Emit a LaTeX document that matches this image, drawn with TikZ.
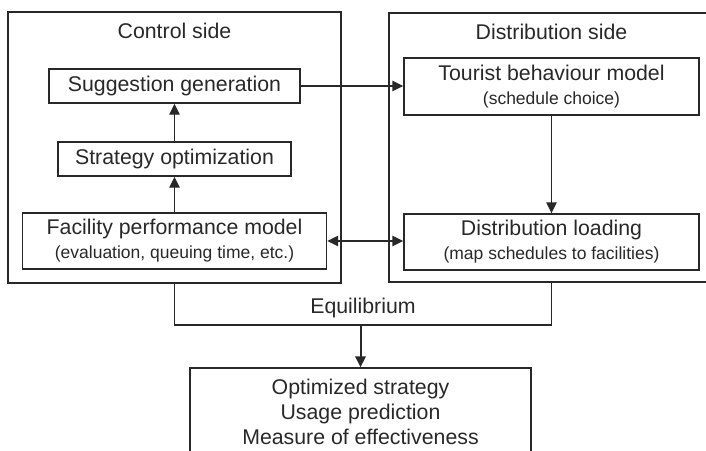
\documentclass[tikz,border=0pt]{standalone}
\usepackage{fontspec}
\setmainfont{Liberation Sans}
\usetikzlibrary{arrows.meta}
\definecolor{ink}{RGB}{40,40,40}
\newcommand\mainsize{\fontsize{10.65}{12}\selectfont}
\newcommand\subsize{\fontsize{8.75}{12}\selectfont}
\begin{document}
\begin{tikzpicture}[x=0.5pt,y=-0.5pt,
  every node/.style={text=ink},
  line/.style={draw=ink,line width=0.7pt},
  box/.style={line,rectangle,inner sep=0pt,align=center,font=\mainsize},
  title/.style={font=\mainsize,inner sep=0pt},
  tip/.style={-{Triangle[length=5.5pt,width=5.2pt]}},
  both/.style={{Triangle[length=5.5pt,width=5.2pt]}-{Triangle[length=5.5pt,width=5.2pt]}}]
\useasboundingbox (0,0) rectangle (706,450);

% control side
\node[box,minimum width=166.5pt,minimum height=135.5pt] (ctrl) at (174.5,147.5) {};
\node[title] (ctrltitle) at (174.5,31) {Control side};
\node[box,minimum width=125.5pt,minimum height=17pt] (sugg) at (174.5,86) {Suggestion generation};
\node[box,minimum width=116.5pt,minimum height=17pt] (strat) at (174.5,159) {Strategy optimization};
\node[box,minimum width=152pt,minimum height=28pt] (fac) at (174.5,241)
  {Facility performance model\\{\subsize (evaluation, queuing time, etc.)}};

% distribution side (open to the right)
\coordinate (dtl) at (389,13);
\coordinate (dbl) at (389,282);
\coordinate (dtr) at (710,13);
\coordinate (dbr) at (710,282);
\draw[line] (dtr) -- (dtl) -- (dbl) -- (dbr);
\node[title] (disttitle) at (551.5,32) {Distribution side};
\node[box,minimum width=147.5pt,minimum height=28.5pt] (tour) at (551.5,86.5)
  {Tourist behaviour model\\{\subsize (schedule choice)}};
\node[box,minimum width=147.5pt,minimum height=28pt] (load) at (551.5,242)
  {Distribution loading\\{\subsize (map schedules to facilities)}};

% connectors
\draw[line,tip] (strat.north) -- (sugg.south);
\draw[line,tip] (fac.north) -- (strat.south);
\draw[line,tip] (sugg.east) -- (sugg.east -| tour.west);
\draw[line,tip] (tour.south) -- (load.north);
\draw[line,both] (fac.east) -- (fac.east -| load.west);

% equilibrium bracket
\coordinate (eqL) at (174.5,325);
\coordinate (eqR) at (551.5,325);
\coordinate (eqmid) at (360.5,325);
\draw[line] (ctrl.south) -- (eqL) -- (eqR) -- (load.south |- dbl);
\node[title] (eqlabel) at (363,308) {Equilibrium};

% results
\node[box,minimum width=170.5pt,minimum height=44pt,font={\fontsize{10.65}{12.5}\selectfont}] (res) at (360.5,412)
  {Optimized strategy\\Usage prediction\\Measure of effectiveness};
\draw[line,line width=1pt,tip] (eqmid) -- (res.north);
\end{tikzpicture}
\end{document}
